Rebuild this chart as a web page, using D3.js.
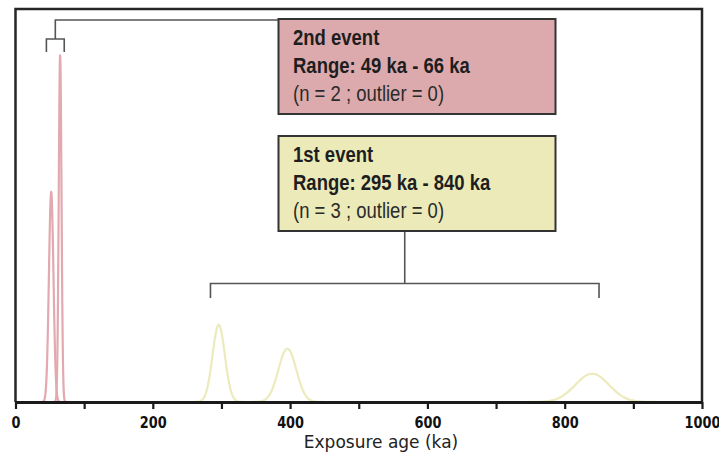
<!DOCTYPE html>
<html>
<head>
<meta charset="utf-8">
<script src="https://cdn.jsdelivr.net/npm/d3@7"></script>
<style>
  body { margin: 0; background: #fff; }
  svg { display: block; }
</style>
</head>
<body>
<div id="viz-container"></div>
<script>
// exposure ages (ka) and 1-sigma errors
const event2Ages = [52, 65];
const event2Errors = [3.3, 2.0];
const event1Ages = [296, 396, 840];
const event1Errors = [9, 13, 24.5];

const xTicks = [0, 100, 200, 300, 400, 500, 600, 700, 800, 900, 1000];
const xLabels = [0, 200, 400, 600, 800, 1000];

const eventTitles = ["2nd event", "1st event"];
const eventRanges = ["Range: 49 ka - 66 ka", "Range: 295 ka - 840 ka"];
const eventCounts = ["(n = 2 ; outlier = 0)", "(n = 3 ; outlier = 0)"];
const bracketSpans = [[45, 71], [284, 850]];

let viz = d3.select("#viz-container")
  .append("svg")
    .attr("width", 719)
    .attr("height", 454);

let x = d3.scaleLinear().domain([0, 1000]).range([15.5, 702]);
let y = d3.scaleLinear().domain([0, 0.226]).range([402, 9]);

function gauss(mu, s, t) {
  return Math.exp(-0.5 * ((t - mu) / s) ** 2) / (s * Math.sqrt(2 * Math.PI));
}

function curvePoints(mu, s) {
  let step = s / 20;
  return d3.range(mu - 4.5 * s, mu + 4.5 * s + step / 2, step).map(t => [t, gauss(mu, s, t)]);
}

let line = d3.line().x(d => x(d[0])).y(d => y(d[1])).curve(d3.curveBasis);

// curves
let samples2 = event2Ages.map((a, i) => ({ mu: a, s: event2Errors[i] }));
let samples1 = event1Ages.map((a, i) => ({ mu: a, s: event1Errors[i] }));

viz.selectAll(".c2").data(samples2).enter()
  .append("path")
  .attr("class", "c2")
  .attr("d", d => line(curvePoints(d.mu, d.s)))
  .attr("fill", "none")
  .attr("stroke", "#e2a9af")
  .attr("stroke-width", 2.2);

viz.selectAll(".c1").data(samples1).enter()
  .append("path")
  .attr("class", "c1")
  .attr("d", d => line(curvePoints(d.mu, d.s)))
  .attr("fill", "none")
  .attr("stroke", "#ebebbd")
  .attr("stroke-width", 2.2);

// frame
viz.append("path")
  .attr("d", "M" + x(0) + "," + y(0) + "V" + y.range()[1] + "H" + x(1000) + "V" + y(0))
  .attr("fill", "none")
  .attr("stroke", "#262626")
  .attr("stroke-width", 2.5);

// x axis
let xAxis = d3.axisBottom(x).tickValues(xTicks).tickSize(7).tickSizeOuter(0)
  .tickFormat(d => xLabels.includes(d) ? d : "");
let gx = viz.append("g").attr("transform", "translate(0," + y(0) + ")").call(xAxis);
gx.select(".domain").attr("stroke", "#1a1a1a").attr("stroke-width", 3);
gx.selectAll(".tick line").attr("stroke", "#1a1a1a").attr("stroke-width", 2.2);
gx.selectAll(".tick text")
  .attr("y", 15)
  .attr("dy", "0.71em")
  .attr("transform", "scale(0.86,1)")
  .attr("font-family", "DejaVu Sans")
  .attr("font-weight", "bold")
  .attr("font-size", 15)
  .attr("fill", "#111");

viz.append("text")
  .attr("x", 381)
  .attr("y", 448)
  .attr("text-anchor", "middle")
  .attr("font-family", "DejaVu Sans")
  .attr("font-size", 17)
  .attr("fill", "#222")
  .text("Exposure age (ka)");

// brackets
let bracketColor = "#555";
let b2 = bracketSpans[0], b1 = bracketSpans[1];
let mid2 = x((b2[0] + b2[1]) / 2), mid1 = x((b1[0] + b1[1]) / 2);

viz.append("path")
  .attr("d", "M" + x(b2[0]) + ",52V39H" + x(b2[1]) + "V52M" + mid2 + ",39V20H278")
  .attr("fill", "none").attr("stroke", bracketColor).attr("stroke-width", 1.6);

viz.append("path")
  .attr("d", "M" + x(b1[0]) + ",298V283.5H" + x(b1[1]) + "V298M" + mid1 + ",283.5V231")
  .attr("fill", "none").attr("stroke", bracketColor).attr("stroke-width", 1.6);

// event boxes
let boxTops = [19, 136];
let boxFills = ["#dcaaad", "#ebeab8"];

boxTops.forEach((top, i) => {
  viz.append("rect")
    .attr("x", 278.5).attr("y", top)
    .attr("width", 277).attr("height", 95)
    .attr("fill", boxFills[i])
    .attr("stroke", "#333")
    .attr("stroke-width", 2);
  let t = viz.append("g")
    .attr("font-family", "'Liberation Sans', Arial, sans-serif")
    .attr("font-size", 21.5)
    .attr("fill", "#1e1e1e");
  let lines = [
    { txt: eventTitles[i], dy: 25.7, bold: true },
    { txt: eventRanges[i], dy: 53.7, bold: true },
    { txt: eventCounts[i], dy: 82, bold: false }
  ];
  t.selectAll("text").data(lines).enter()
    .append("text")
    .attr("transform", d => "translate(293," + (top + d.dy) + ") scale(0.86,1)")
    .attr("font-weight", d => d.bold ? "bold" : "normal")
    .attr("fill", d => d.bold ? "#1e1e1e" : "#2a2a2a")
    .text(d => d.txt);
});
</script>
</body>
</html>
